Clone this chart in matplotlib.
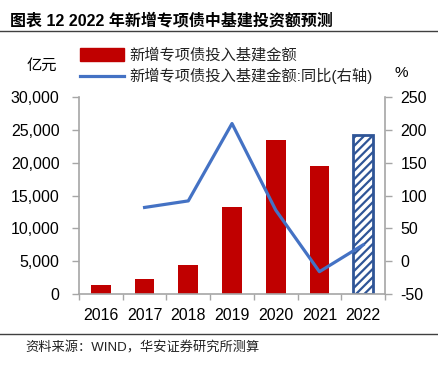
import matplotlib
matplotlib.use("Agg")
import matplotlib.pyplot as plt
from matplotlib.lines import Line2D
from matplotlib.patches import Patch
import numpy as np

plt.rcParams['font.family'] = ['Liberation Sans', 'Noto Sans CJK SC', 'DejaVu Sans']
plt.rcParams['hatch.color'] = '#2F5597'
plt.rcParams['hatch.linewidth'] = 1.6
plt.rcParams['axes.unicode_minus'] = False

years = ['2016', '2017', '2018', '2019', '2020', '2021', '2022']
amount = [1380, 2330, 4380, 13270, 23490, 19570, 24300]
yoy_years = ['2017', '2018', '2019', '2020', '2021', '2022']
yoy = [82, 92, 210, 78, -16, 25]

title = '图表 12 2022 年新增专项债中基建投资额预测'
bar_label = '新增专项债投入基建金额'
line_label = '新增专项债投入基建金额:同比(右轴)'
source = '资料来源：WIND，华安证券研究所测算'

W, H = 439, 367
fig = plt.figure(figsize=(W/100, H/100), dpi=100)
ax = fig.add_axes([79/W, 1-294/H, (385-79)/W, (294-97.3)/H])
ax2 = ax.twinx()

x = np.arange(len(years))
red = '#C00000'
blue = '#4472C4'
dblue = '#2F5597'

for i, v in enumerate(amount):
    if i == len(amount) - 1:
        ax.bar(x[i], v, width=0.45, facecolor='white', edgecolor=dblue,
               linewidth=2, hatch='////', zorder=2)
    else:
        ax.bar(x[i], v, width=0.45, color=red, zorder=2)

xi = [years.index(y) for y in yoy_years]
ax2.plot(xi, yoy, color=blue, linewidth=2.3, zorder=3)

ax.set_xlim(-0.5, len(years) - 0.5)
ax.set_ylim(0, 30000)
ax.set_yticks(np.arange(0, 30001, 5000))
ax.set_yticklabels([f'{v:,}' for v in range(0, 30001, 5000)])
ax2.set_ylim(-50, 250)
ax2.set_yticks(np.arange(-50, 251, 50))

ax.set_xticks(x)
ax.set_xticklabels(years)
ax.set_xticks(np.arange(-0.5, len(years), 1), minor=True)
ax.tick_params(axis='x', which='major', length=0, pad=10, labelsize=11.5)
ax.tick_params(axis='x', which='minor', length=4, color='#A6A6A6', width=1, direction='out')
ax.tick_params(axis='y', length=5, color='#A6A6A6', width=1, pad=9, labelsize=11.5)
ax2.tick_params(axis='y', length=5, color='#A6A6A6', width=1, pad=6, labelsize=11.5)

for a in (ax, ax2):
    a.spines['top'].set_visible(False)
    for s in ('left', 'right', 'bottom'):
        a.spines[s].set_color('#A6A6A6')
        a.spines[s].set_linewidth(1.2)
ax.spines['right'].set_visible(False)
ax2.spines['left'].set_visible(False)
ax2.spines['bottom'].set_visible(False)

handles = [Patch(facecolor=red, edgecolor=red), Line2D([], [], color=blue, linewidth=2.3)]
leg = fig.legend(handles, [bar_label, line_label], loc='upper left',
                 bbox_to_anchor=(80/W, 1-48/H), frameon=False, fontsize=11,
                 handlelength=2.9, handleheight=0.9, handletextpad=0.3,
                 labelspacing=0.35, borderaxespad=0, borderpad=0)
for t in leg.get_texts():
    t.set_color('#222222')

fig.text(42/W, 1-66/H, '亿元', ha='center', va='center', fontsize=11)
fig.text(401/W, 1-73/H, '%', ha='center', va='center', fontsize=11)

fig.text(10/W, 1-20/H, title, ha='left', va='center', fontsize=11.5, fontweight='bold')
fig.add_artist(Line2D([0, 437/W], [1-31/H, 1-31/H], color='#404040', linewidth=1))
fig.add_artist(Line2D([0, 437/W], [1-334/H, 1-334/H], color='#404040', linewidth=1))
fig.text(25/W, 1-348/H, source, ha='left', va='center', fontsize=9.5, color='#222222')

fig.savefig('out.png', dpi=100)
